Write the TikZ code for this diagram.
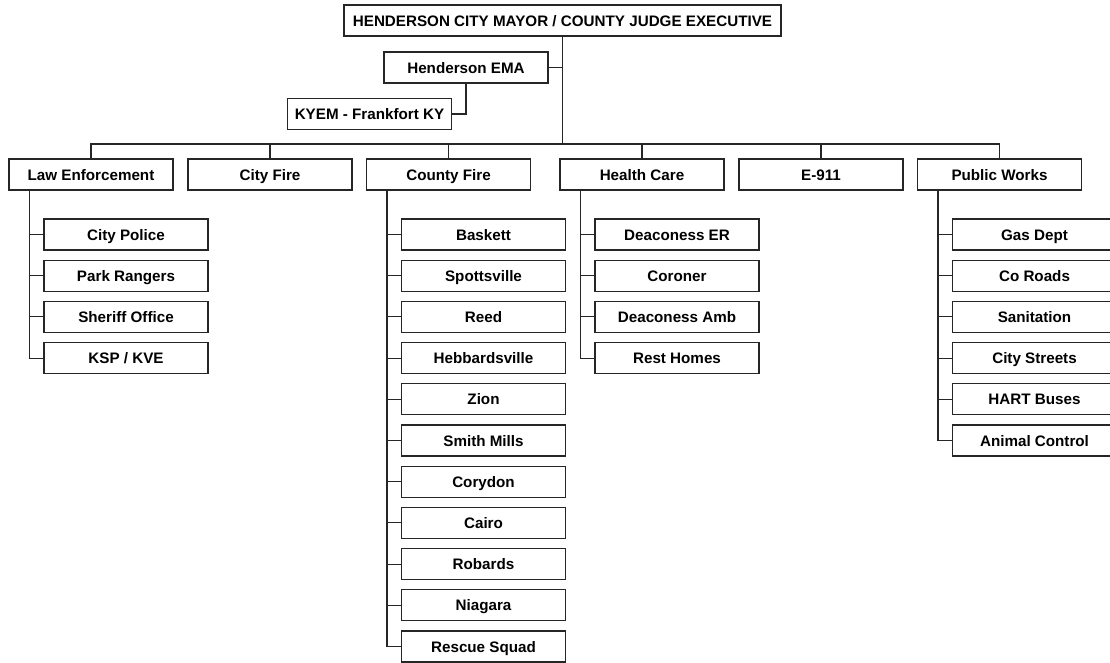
\documentclass[tikz,border=0pt]{standalone}
\usepackage{fontspec}
\setmainfont{Liberation Sans}
\usepackage{tikz}
\usetikzlibrary{positioning,calc}

\begin{document}
\begin{tikzpicture}[
    x=1pt, y=-1pt,
    orgbox/.style={draw=black!85, line width=1.1pt, inner sep=0pt, align=center, font=\fontsize{15.2}{18}\selectfont\bfseries, text height=11pt, text depth=0pt, minimum width=164pt, minimum height=31pt},
    headbox/.style={orgbox, minimum width=437pt},
    link/.style={draw=black!85, line width=1.1pt}
]
    \useasboundingbox (0,0) rectangle (1110,662);

    % Head
    \node[headbox] (mayor) at (562.5,20.5) {HENDERSON CITY MAYOR / COUNTY JUDGE EXECUTIVE};
    \node[orgbox] (ema) at (466,67.5) {Henderson EMA};
    \node[orgbox] (kyem) at (369.5,114) {KYEM - Frankfort KY};
    \coordinate (bus) at (562.5,144);

    % Departments
    \node[orgbox] (law) at (91,174.5) {Law Enforcement};
    \node[orgbox] (cityfire) at (270,174.5) {City Fire};
    \node[orgbox] (cofire) at (448.5,174.5) {County Fire};
    \node[orgbox] (health) at (642,174.5) {Health Care};
    \node[orgbox] (e911) at (821,174.5) {E-911};
    \node[orgbox] (works) at (999.5,174.5) {Public Works};

    % Law Enforcement units
    \node[orgbox] (police) at (126,234.5) {City Police};
    \node[orgbox] (rangers) at (126,275.7) {Park Rangers};
    \node[orgbox] (sheriff) at (126,316.9) {Sheriff Office};
    \node[orgbox] (ksp) at (126,358.1) {KSP / KVE};

    % County Fire units
    \node[orgbox] (baskett) at (483.5,234.5) {Baskett};
    \node[orgbox] (spotts) at (483.5,275.7) {Spottsville};
    \node[orgbox] (reed) at (483.5,316.9) {Reed};
    \node[orgbox] (hebb) at (483.5,358.1) {Hebbardsville};
    \node[orgbox] (zion) at (483.5,399.3) {Zion};
    \node[orgbox] (smith) at (483.5,440.5) {Smith Mills};
    \node[orgbox] (corydon) at (483.5,481.7) {Corydon};
    \node[orgbox] (cairo) at (483.5,522.9) {Cairo};
    \node[orgbox] (robards) at (483.5,564.1) {Robards};
    \node[orgbox] (niagara) at (483.5,605.3) {Niagara};
    \node[orgbox] (rescue) at (483.5,646.5) {Rescue Squad};

    % Health Care units
    \node[orgbox] (deacer) at (677,234.5) {Deaconess ER};
    \node[orgbox] (coroner) at (677,275.7) {Coroner};
    \node[orgbox] (deacamb) at (677,316.9) {Deaconess Amb};
    \node[orgbox] (rest) at (677,358.1) {Rest Homes};

    % Public Works units
    \node[orgbox] (gas) at (1034.5,234.5) {Gas Dept};
    \node[orgbox] (roads) at (1034.5,275.7) {Co Roads};
    \node[orgbox] (sanit) at (1034.5,316.9) {Sanitation};
    \node[orgbox] (streets) at (1034.5,358.1) {City Streets};
    \node[orgbox] (hart) at (1034.5,399.3) {HART Buses};
    \node[orgbox] (animal) at (1034.5,440.5) {Animal Control};

    % Head links
    \draw[link] (mayor.south) -- (bus);
    \draw[link] (ema.east) -- (ema.east -| mayor.south);
    \draw[link] (ema.south) |- (kyem.east);
    \draw[link] (law.north) |- (bus);
    \draw[link] (cityfire.north) |- (bus);
    \draw[link] (cofire.north) |- (bus);
    \draw[link] (health.north) |- (bus);
    \draw[link] (e911.north) |- (bus);
    \draw[link] (works.north) |- (bus);

    % Unit links
    \draw[link] ([xshift=21pt]law.south west) |- (police.west);
    \draw[link] ([xshift=21pt]law.south west) |- (rangers.west);
    \draw[link] ([xshift=21pt]law.south west) |- (sheriff.west);
    \draw[link] ([xshift=21pt]law.south west) |- (ksp.west);

    \draw[link] ([xshift=21pt]cofire.south west) |- (baskett.west);
    \draw[link] ([xshift=21pt]cofire.south west) |- (spotts.west);
    \draw[link] ([xshift=21pt]cofire.south west) |- (reed.west);
    \draw[link] ([xshift=21pt]cofire.south west) |- (hebb.west);
    \draw[link] ([xshift=21pt]cofire.south west) |- (zion.west);
    \draw[link] ([xshift=21pt]cofire.south west) |- (smith.west);
    \draw[link] ([xshift=21pt]cofire.south west) |- (corydon.west);
    \draw[link] ([xshift=21pt]cofire.south west) |- (cairo.west);
    \draw[link] ([xshift=21pt]cofire.south west) |- (robards.west);
    \draw[link] ([xshift=21pt]cofire.south west) |- (niagara.west);
    \draw[link] ([xshift=21pt]cofire.south west) |- (rescue.west);

    \draw[link] ([xshift=21pt]health.south west) |- (deacer.west);
    \draw[link] ([xshift=21pt]health.south west) |- (coroner.west);
    \draw[link] ([xshift=21pt]health.south west) |- (deacamb.west);
    \draw[link] ([xshift=21pt]health.south west) |- (rest.west);

    \draw[link] ([xshift=21pt]works.south west) |- (gas.west);
    \draw[link] ([xshift=21pt]works.south west) |- (roads.west);
    \draw[link] ([xshift=21pt]works.south west) |- (sanit.west);
    \draw[link] ([xshift=21pt]works.south west) |- (streets.west);
    \draw[link] ([xshift=21pt]works.south west) |- (hart.west);
    \draw[link] ([xshift=21pt]works.south west) |- (animal.west);

\end{tikzpicture}
\end{document}
